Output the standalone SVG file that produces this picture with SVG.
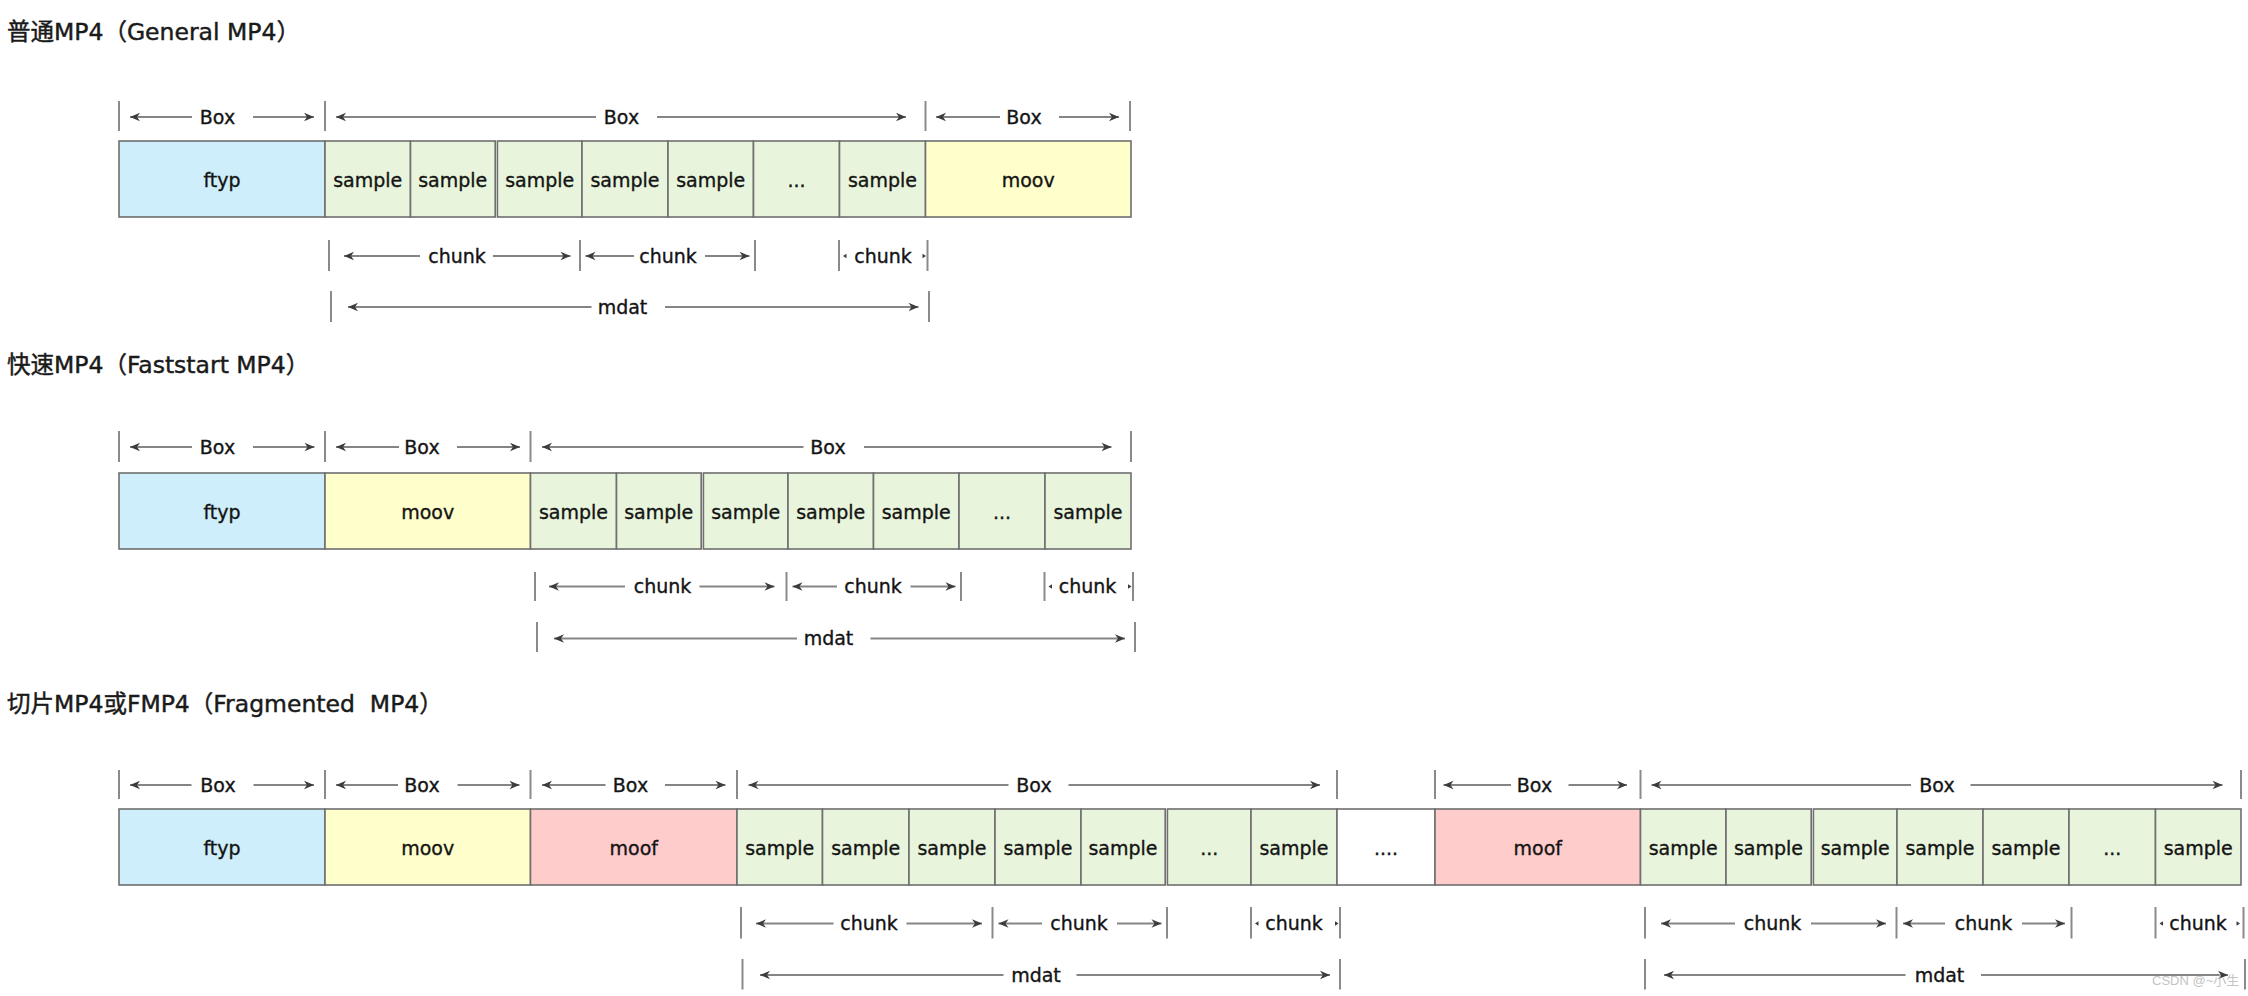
<svg xmlns="http://www.w3.org/2000/svg" xmlns:xlink="http://www.w3.org/1999/xlink" width="2248" height="996" viewBox="0 0 2248 996">
<style>
.cell{stroke:#6f6f6f;stroke-width:1.6}
.ftyp{fill:#cdeefa}
.moov{fill:#ffffcc}
.moof{fill:#ffcccc}
.smp{fill:#e8f5dc}
.dots{fill:#ffffff}
.t{font-family:"DejaVu Sans","Noto Sans CJK SC",sans-serif;font-size:19px;fill:#141414;stroke:#141414;stroke-width:0.35;text-anchor:middle}
.title{font-family:"DejaVu Sans","Noto Sans CJK SC",sans-serif;font-size:23.5px;fill:#1a1a1a;stroke:#1a1a1a;stroke-width:0.45;white-space:pre}
.tick{stroke:#8a8a8a;stroke-width:2}
.dl{stroke:#858585;stroke-width:1.8;fill:none}
.ah{fill:#3c3c3c}
.wm{font-family:"Liberation Sans","Noto Sans CJK SC",sans-serif;font-size:13px;fill:#c4c4c4}
</style>
<defs>
<marker id="ah" viewBox="-11 -5 12 10" refX="0" refY="0" markerWidth="12" markerHeight="10" markerUnits="userSpaceOnUse" orient="auto-start-reverse"><path class="ah" d="M0,0 L-10,-4.2 L-7,0 L-10,4.2 Z"/></marker>
<path id="sal" class="ah" d="M0,0 L3.5,-2.2 L3.5,2.2 Z"/>
<path id="sar" class="ah" d="M0,0 L-3.5,-2.2 L-3.5,2.2 Z"/>
</defs>
<rect width="2248" height="996" fill="#ffffff"/>

<text class="title" x="7" y="40">普通MP4（General MP4）</text>
<text class="title" x="7" y="373">快速MP4（Faststart MP4）</text>
<text class="title" x="7" y="712">切片MP4或FMP4（Fragmented  MP4）</text>

<!-- Section 1 nodes -->
<g id="s1-ftyp"><rect class="cell ftyp" x="119" y="141" width="206" height="76"/><text class="t" x="222" y="187">ftyp</text></g>
<g id="s1-sample1"><rect class="cell smp" x="325" y="141" width="85.5" height="76"/><text class="t" x="367.75" y="187">sample</text></g>
<g id="s1-sample2"><rect class="cell smp" x="410.5" y="141" width="84.7" height="76"/><text class="t" x="452.75" y="187">sample</text></g>
<g id="s1-sample3"><rect class="cell smp" x="497.4" y="141" width="84.6" height="76"/><text class="t" x="539.75" y="187">sample</text></g>
<g id="s1-sample4"><rect class="cell smp" x="582" y="141" width="86" height="76"/><text class="t" x="625" y="187">sample</text></g>
<g id="s1-sample5"><rect class="cell smp" x="668" y="141" width="85.5" height="76"/><text class="t" x="710.75" y="187">sample</text></g>
<g id="s1-etc"><rect class="cell smp" x="753.5" y="141" width="86" height="76"/><text class="t" x="796.5" y="187">...</text></g>
<g id="s1-sample6"><rect class="cell smp" x="839.5" y="141" width="86" height="76"/><text class="t" x="882.5" y="187">sample</text></g>
<g id="s1-moov"><rect class="cell moov" x="925.5" y="141" width="205.5" height="76"/><text class="t" x="1028.25" y="187">moov</text></g>

<!-- Section 2 nodes -->
<g id="s2-ftyp"><rect class="cell ftyp" x="119" y="473" width="206" height="76"/><text class="t" x="222" y="519">ftyp</text></g>
<g id="s2-moov"><rect class="cell moov" x="325" y="473" width="205.5" height="76"/><text class="t" x="427.75" y="519">moov</text></g>
<g id="s2-sample1"><rect class="cell smp" x="530.5" y="473" width="86" height="76"/><text class="t" x="573.5" y="519">sample</text></g>
<g id="s2-sample2"><rect class="cell smp" x="616.5" y="473" width="84.7" height="76"/><text class="t" x="658.75" y="519">sample</text></g>
<g id="s2-sample3"><rect class="cell smp" x="703.4" y="473" width="84.6" height="76"/><text class="t" x="745.75" y="519">sample</text></g>
<g id="s2-sample4"><rect class="cell smp" x="788" y="473" width="85.5" height="76"/><text class="t" x="830.75" y="519">sample</text></g>
<g id="s2-sample5"><rect class="cell smp" x="873.5" y="473" width="85.5" height="76"/><text class="t" x="916.25" y="519">sample</text></g>
<g id="s2-etc"><rect class="cell smp" x="959" y="473" width="86" height="76"/><text class="t" x="1002" y="519">...</text></g>
<g id="s2-sample6"><rect class="cell smp" x="1045" y="473" width="86" height="76"/><text class="t" x="1088" y="519">sample</text></g>

<!-- Section 3 nodes -->
<g id="s3-ftyp"><rect class="cell ftyp" x="119" y="809" width="206" height="76"/><text class="t" x="222" y="855">ftyp</text></g>
<g id="s3-moov"><rect class="cell moov" x="325" y="809" width="205.5" height="76"/><text class="t" x="427.75" y="855">moov</text></g>
<g id="s3-moof1"><rect class="cell moof" x="530.5" y="809" width="206.5" height="76"/><text class="t" x="633.75" y="855">moof</text></g>
<g id="s3-sample1"><rect class="cell smp" x="737" y="809" width="85.5" height="76"/><text class="t" x="779.75" y="855">sample</text></g>
<g id="s3-sample2"><rect class="cell smp" x="822.5" y="809" width="86.5" height="76"/><text class="t" x="865.75" y="855">sample</text></g>
<g id="s3-sample3"><rect class="cell smp" x="909" y="809" width="86" height="76"/><text class="t" x="952" y="855">sample</text></g>
<g id="s3-sample4"><rect class="cell smp" x="995" y="809" width="86" height="76"/><text class="t" x="1038" y="855">sample</text></g>
<g id="s3-sample5"><rect class="cell smp" x="1081" y="809" width="84.2" height="76"/><text class="t" x="1123" y="855">sample</text></g>
<g id="s3-etc1"><rect class="cell smp" x="1167.4" y="809" width="83.6" height="76"/><text class="t" x="1209.25" y="855">...</text></g>
<g id="s3-sample6"><rect class="cell smp" x="1251" y="809" width="86" height="76"/><text class="t" x="1294" y="855">sample</text></g>
<g id="s3-gap"><rect class="cell dots" x="1337" y="809" width="98" height="76"/><text class="t" x="1386" y="855">....</text></g>
<g id="s3-moof2"><rect class="cell moof" x="1435" y="809" width="205.5" height="76"/><text class="t" x="1537.75" y="855">moof</text></g>
<g id="s3-sample7"><rect class="cell smp" x="1640.5" y="809" width="85.5" height="76"/><text class="t" x="1683.25" y="855">sample</text></g>
<g id="s3-sample8"><rect class="cell smp" x="1726" y="809" width="85.2" height="76"/><text class="t" x="1768.5" y="855">sample</text></g>
<g id="s3-sample9"><rect class="cell smp" x="1813.4" y="809" width="83.6" height="76"/><text class="t" x="1855.25" y="855">sample</text></g>
<g id="s3-sample10"><rect class="cell smp" x="1897" y="809" width="86" height="76"/><text class="t" x="1940" y="855">sample</text></g>
<g id="s3-sample11"><rect class="cell smp" x="1983" y="809" width="86" height="76"/><text class="t" x="2026" y="855">sample</text></g>
<g id="s3-etc2"><rect class="cell smp" x="2069" y="809" width="86.5" height="76"/><text class="t" x="2112.25" y="855">...</text></g>
<g id="s3-sample12"><rect class="cell smp" x="2155.5" y="809" width="85.5" height="76"/><text class="t" x="2198.25" y="855">sample</text></g>

<!-- Connectors: dimension arrows -->
<g id="connectors">
<!-- Section 1 Box row -->
<g id="s1-box1"><line class="tick" x1="119" y1="101" x2="119" y2="131"/><line class="tick" x1="325" y1="101" x2="325" y2="131"/><line class="dl" x1="130" y1="117" x2="192" y2="117" marker-start="url(#ah)"/><line class="dl" x1="253" y1="117" x2="314" y2="117" marker-end="url(#ah)"/><text class="t" x="217.5" y="123.5">Box</text></g>
<g id="s1-box2"><line class="tick" x1="925.5" y1="101" x2="925.5" y2="131"/><line class="dl" x1="336" y1="117" x2="596" y2="117" marker-start="url(#ah)"/><line class="dl" x1="657" y1="117" x2="906" y2="117" marker-end="url(#ah)"/><text class="t" x="621.5" y="123.5">Box</text></g>
<g id="s1-box3"><line class="tick" x1="1130" y1="101" x2="1130" y2="131"/><line class="dl" x1="936" y1="117" x2="1000" y2="117" marker-start="url(#ah)"/><line class="dl" x1="1059" y1="117" x2="1119" y2="117" marker-end="url(#ah)"/><text class="t" x="1024" y="123.5">Box</text></g>
<!-- Section 1 chunk row -->
<g id="s1-chunk1"><line class="tick" x1="329" y1="240" x2="329" y2="271"/><line class="tick" x1="580" y1="240" x2="580" y2="271"/><line class="dl" x1="344" y1="256" x2="420" y2="256" marker-start="url(#ah)"/><line class="dl" x1="493" y1="256" x2="570.5" y2="256" marker-end="url(#ah)"/><text class="t" x="457" y="262.5">chunk</text></g>
<g id="s1-chunk2"><line class="tick" x1="755" y1="240" x2="755" y2="271"/><line class="dl" x1="585.5" y1="256" x2="634" y2="256" marker-start="url(#ah)"/><line class="dl" x1="705" y1="256" x2="749.5" y2="256" marker-end="url(#ah)"/><text class="t" x="668" y="262.5">chunk</text></g>
<g id="s1-chunk3"><line class="tick" x1="839" y1="240" x2="839" y2="271"/><line class="tick" x1="927.5" y1="240" x2="927.5" y2="271"/><use xlink:href="#sal" x="843" y="256"/><use xlink:href="#sar" x="926" y="256"/><text class="t" x="883" y="262.5">chunk</text></g>
<!-- Section 1 mdat row -->
<g id="s1-mdat"><line class="tick" x1="331" y1="291" x2="331" y2="322"/><line class="tick" x1="929" y1="291" x2="929" y2="322"/><line class="dl" x1="348" y1="307" x2="591.5" y2="307" marker-start="url(#ah)"/><line class="dl" x1="665" y1="307" x2="918.5" y2="307" marker-end="url(#ah)"/><text class="t" x="622.5" y="313.5">mdat</text></g>

<!-- Section 2 Box row -->
<g id="s2-box1"><line class="tick" x1="119" y1="431" x2="119" y2="462"/><line class="tick" x1="325" y1="431" x2="325" y2="462"/><line class="dl" x1="130" y1="447" x2="192" y2="447" marker-start="url(#ah)"/><line class="dl" x1="253" y1="447" x2="314.5" y2="447" marker-end="url(#ah)"/><text class="t" x="217.5" y="453.5">Box</text></g>
<g id="s2-box2"><line class="tick" x1="530.5" y1="431" x2="530.5" y2="462"/><line class="dl" x1="336" y1="447" x2="399" y2="447" marker-start="url(#ah)"/><line class="dl" x1="457" y1="447" x2="520" y2="447" marker-end="url(#ah)"/><text class="t" x="422" y="453.5">Box</text></g>
<g id="s2-box3"><line class="tick" x1="1131" y1="431" x2="1131" y2="462"/><line class="dl" x1="542" y1="447" x2="803.5" y2="447" marker-start="url(#ah)"/><line class="dl" x1="864" y1="447" x2="1111.5" y2="447" marker-end="url(#ah)"/><text class="t" x="828" y="453.5">Box</text></g>
<!-- Section 2 chunk row -->
<g id="s2-chunk1"><line class="tick" x1="535" y1="572" x2="535" y2="601"/><line class="tick" x1="786.5" y1="572" x2="786.5" y2="601"/><line class="dl" x1="549" y1="586.5" x2="625" y2="586.5" marker-start="url(#ah)"/><line class="dl" x1="699.5" y1="586.5" x2="774.5" y2="586.5" marker-end="url(#ah)"/><text class="t" x="662.5" y="593">chunk</text></g>
<g id="s2-chunk2"><line class="tick" x1="961" y1="572" x2="961" y2="601"/><line class="dl" x1="792.5" y1="586.5" x2="837" y2="586.5" marker-start="url(#ah)"/><line class="dl" x1="910.5" y1="586.5" x2="955.5" y2="586.5" marker-end="url(#ah)"/><text class="t" x="873" y="593">chunk</text></g>
<g id="s2-chunk3"><line class="tick" x1="1044.5" y1="572" x2="1044.5" y2="601"/><line class="tick" x1="1133" y1="572" x2="1133" y2="601"/><use xlink:href="#sal" x="1048.5" y="586.5"/><use xlink:href="#sar" x="1131.5" y="586.5"/><text class="t" x="1087.5" y="593">chunk</text></g>
<!-- Section 2 mdat row -->
<g id="s2-mdat"><line class="tick" x1="537" y1="622" x2="537" y2="652"/><line class="tick" x1="1135" y1="622" x2="1135" y2="652"/><line class="dl" x1="554" y1="638.5" x2="797" y2="638.5" marker-start="url(#ah)"/><line class="dl" x1="870.5" y1="638.5" x2="1125" y2="638.5" marker-end="url(#ah)"/><text class="t" x="828.5" y="645">mdat</text></g>

<!-- Section 3 Box row -->
<g id="s3-box1"><line class="tick" x1="119" y1="770" x2="119" y2="799"/><line class="tick" x1="325" y1="770" x2="325" y2="799"/><line class="dl" x1="130" y1="785" x2="191.5" y2="785" marker-start="url(#ah)"/><line class="dl" x1="253.5" y1="785" x2="314" y2="785" marker-end="url(#ah)"/><text class="t" x="218" y="791.5">Box</text></g>
<g id="s3-box2"><line class="tick" x1="530.5" y1="770" x2="530.5" y2="799"/><line class="dl" x1="336" y1="785" x2="398" y2="785" marker-start="url(#ah)"/><line class="dl" x1="457.5" y1="785" x2="519.5" y2="785" marker-end="url(#ah)"/><text class="t" x="422" y="791.5">Box</text></g>
<g id="s3-box3"><line class="tick" x1="737" y1="770" x2="737" y2="799"/><line class="dl" x1="542" y1="785" x2="605.5" y2="785" marker-start="url(#ah)"/><line class="dl" x1="665" y1="785" x2="725.5" y2="785" marker-end="url(#ah)"/><text class="t" x="630.5" y="791.5">Box</text></g>
<g id="s3-box4"><line class="tick" x1="1337" y1="770" x2="1337" y2="799"/><line class="dl" x1="748.5" y1="785" x2="1008.5" y2="785" marker-start="url(#ah)"/><line class="dl" x1="1068.5" y1="785" x2="1320" y2="785" marker-end="url(#ah)"/><text class="t" x="1034" y="791.5">Box</text></g>
<g id="s3-box5"><line class="tick" x1="1435" y1="770" x2="1435" y2="799"/><line class="tick" x1="1640.5" y1="770" x2="1640.5" y2="799"/><line class="dl" x1="1443.5" y1="785" x2="1511" y2="785" marker-start="url(#ah)"/><line class="dl" x1="1568.5" y1="785" x2="1627" y2="785" marker-end="url(#ah)"/><text class="t" x="1534.5" y="791.5">Box</text></g>
<g id="s3-box6"><line class="tick" x1="2241" y1="770" x2="2241" y2="799"/><line class="dl" x1="1651.5" y1="785" x2="1911" y2="785" marker-start="url(#ah)"/><line class="dl" x1="1970.5" y1="785" x2="2222.5" y2="785" marker-end="url(#ah)"/><text class="t" x="1937" y="791.5">Box</text></g>
<!-- Section 3 chunk row -->
<g id="s3-chunk1"><line class="tick" x1="741" y1="907" x2="741" y2="938.5"/><line class="tick" x1="992.5" y1="907" x2="992.5" y2="938.5"/><line class="dl" x1="756" y1="923.5" x2="833.5" y2="923.5" marker-start="url(#ah)"/><line class="dl" x1="906.5" y1="923.5" x2="982" y2="923.5" marker-end="url(#ah)"/><text class="t" x="869" y="930">chunk</text></g>
<g id="s3-chunk2"><line class="tick" x1="1167" y1="907" x2="1167" y2="938.5"/><line class="dl" x1="998.5" y1="923.5" x2="1042" y2="923.5" marker-start="url(#ah)"/><line class="dl" x1="1117" y1="923.5" x2="1161.5" y2="923.5" marker-end="url(#ah)"/><text class="t" x="1079" y="930">chunk</text></g>
<g id="s3-chunk3"><line class="tick" x1="1251" y1="907" x2="1251" y2="938.5"/><line class="tick" x1="1340" y1="907" x2="1340" y2="938.5"/><use xlink:href="#sal" x="1255" y="923.5"/><use xlink:href="#sar" x="1338.5" y="923.5"/><text class="t" x="1294" y="930">chunk</text></g>
<g id="s3-chunk4"><line class="tick" x1="1645" y1="907" x2="1645" y2="938.5"/><line class="tick" x1="1896.5" y1="907" x2="1896.5" y2="938.5"/><line class="dl" x1="1661" y1="923.5" x2="1735" y2="923.5" marker-start="url(#ah)"/><line class="dl" x1="1811" y1="923.5" x2="1886" y2="923.5" marker-end="url(#ah)"/><text class="t" x="1772.5" y="930">chunk</text></g>
<g id="s3-chunk5"><line class="tick" x1="2071.5" y1="907" x2="2071.5" y2="938.5"/><line class="dl" x1="1903" y1="923.5" x2="1945" y2="923.5" marker-start="url(#ah)"/><line class="dl" x1="2022" y1="923.5" x2="2065" y2="923.5" marker-end="url(#ah)"/><text class="t" x="1983.5" y="930">chunk</text></g>
<g id="s3-chunk6"><line class="tick" x1="2155.5" y1="907" x2="2155.5" y2="938.5"/><line class="tick" x1="2243.5" y1="907" x2="2243.5" y2="938.5"/><use xlink:href="#sal" x="2159.5" y="923.5"/><use xlink:href="#sar" x="2240" y="923.5"/><text class="t" x="2198" y="930">chunk</text></g>
<!-- Section 3 mdat row -->
<g id="s3-mdat1"><line class="tick" x1="742.5" y1="959" x2="742.5" y2="989.5"/><line class="tick" x1="1340" y1="959" x2="1340" y2="989.5"/><line class="dl" x1="760" y1="975" x2="1003.5" y2="975" marker-start="url(#ah)"/><line class="dl" x1="1076.5" y1="975" x2="1330" y2="975" marker-end="url(#ah)"/><text class="t" x="1036" y="981.5">mdat</text></g>
<g id="s3-mdat2"><line class="tick" x1="1645" y1="959" x2="1645" y2="989.5"/><line class="tick" x1="2245" y1="959" x2="2245" y2="989.5"/><line class="dl" x1="1664" y1="975" x2="1905.5" y2="975" marker-start="url(#ah)"/><line class="dl" x1="1981" y1="975" x2="2228" y2="975" marker-end="url(#ah)"/><text class="t" x="1939.5" y="981.5">mdat</text></g>
</g>

<text class="wm" x="2152" y="985">CSDN @~小生</text>
</svg>
